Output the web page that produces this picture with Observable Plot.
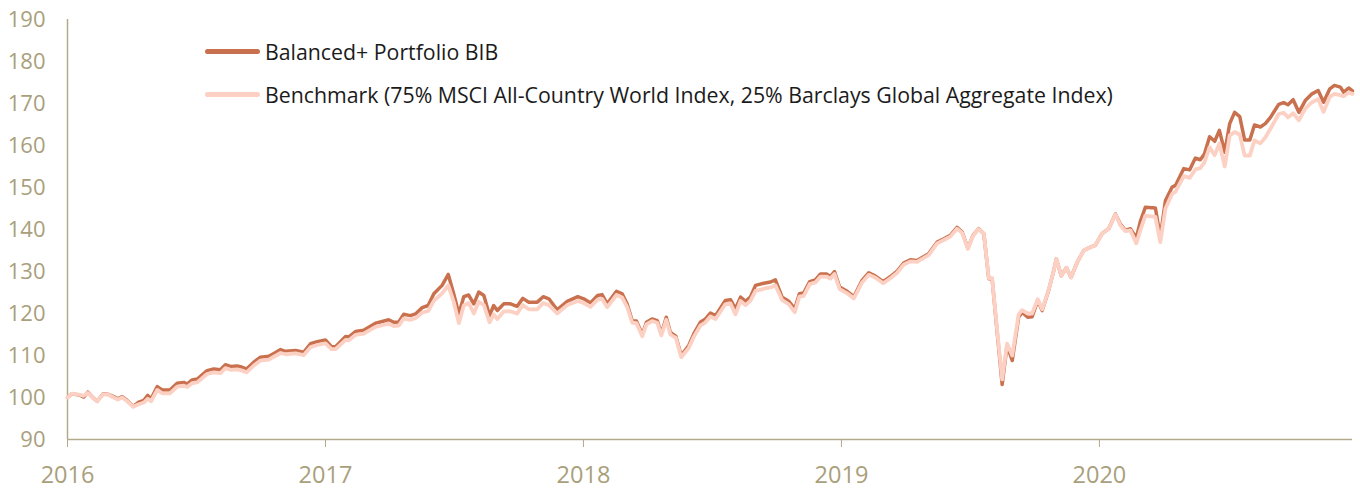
<!DOCTYPE html>
<html>
<head>
<meta charset="utf-8">
<script src="https://cdn.jsdelivr.net/npm/d3@7"></script>
<script src="https://cdn.jsdelivr.net/npm/@observablehq/plot@0.6"></script>
<style>
  html, body { margin: 0; padding: 0; background: #fff; }
  #wrap { position: relative; width: 1360px; height: 489px; font-family: "Open Sans", sans-serif; }
  #legend { position: absolute; left: 205px; top: 30px; }
  .row { display: flex; align-items: center; height: 43px; font-size: 21.3px; color: #1b1b1b; white-space: nowrap; }
  .sw { width: 55px; height: 5px; border-radius: 3px; margin-right: 5px; }
</style>
</head>
<body>
<div id="wrap"></div>
<script>
// Time in decimal years
const t = [
2016.000,2016.018,2016.050,2016.063,2016.079,2016.096,2016.115,2016.138,2016.160,2016.179,
2016.195,2016.212,2016.231,2016.255,2016.276,2016.296,2016.311,2016.324,2016.348,2016.367,
2016.397,2016.425,2016.451,2016.464,2016.483,2016.503,2016.541,2016.567,2016.593,2016.612,
2016.632,2016.658,2016.677,2016.694,2016.722,2016.748,2016.780,2016.800,2016.826,2016.845,
2016.884,2016.916,2016.942,2016.968,2017.000,2017.023,2017.039,2017.078,2017.090,2017.116,
2017.148,2017.194,2017.220,2017.245,2017.265,2017.284,2017.303,2017.329,2017.349,2017.375,
2017.398,2017.420,2017.452,2017.476,2017.497,2017.517,2017.536,2017.555,2017.575,2017.594,
2017.614,2017.636,2017.652,2017.666,2017.691,2017.717,2017.743,2017.765,2017.788,2017.821,
2017.844,2017.866,2017.898,2017.937,2017.978,2018.001,2018.027,2018.055,2018.072,2018.092,
2018.128,2018.150,2018.169,2018.189,2018.205,2018.228,2018.244,2018.266,2018.286,2018.302,
2018.321,2018.337,2018.358,2018.379,2018.408,2018.428,2018.453,2018.473,2018.492,2018.512,
2018.550,2018.570,2018.589,2018.609,2018.628,2018.647,2018.667,2018.699,2018.725,2018.744,
2018.770,2018.796,2018.819,2018.837,2018.854,2018.877,2018.899,2018.919,2018.942,2018.957,
2018.973,2018.993,2019.022,2019.048,2019.080,2019.106,2019.132,2019.162,2019.190,2019.216,
2019.241,2019.267,2019.293,2019.313,2019.338,2019.371,2019.397,2019.422,2019.448,2019.468,
2019.490,2019.510,2019.532,2019.552,2019.571,2019.584,2019.603,2019.623,2019.642,2019.662,
2019.687,2019.700,2019.722,2019.739,2019.761,2019.778,2019.803,2019.823,2019.833,2019.852,
2019.872,2019.890,2019.914,2019.939,2019.965,2019.984,2020.010,2020.036,2020.062,2020.081,
2020.101,2020.120,2020.143,2020.159,2020.178,2020.217,2020.236,2020.256,2020.282,2020.295,
2020.327,2020.350,2020.372,2020.391,2020.407,2020.427,2020.447,2020.465,2020.486,2020.505,
2020.524,2020.544,2020.563,2020.583,2020.601,2020.624,2020.643,2020.663,2020.695,2020.714,
2020.731,2020.751,2020.773,2020.798,2020.824,2020.848,2020.869,2020.893,2020.911,2020.934,
2020.947,2020.966,2020.981
];
const portfolio = [
100.0,100.9,100.5,100.1,101.3,100.1,99.1,100.9,100.7,100.2,
99.7,100.2,99.3,97.9,98.9,99.3,100.5,99.7,102.6,101.8,
101.8,103.4,103.6,103.2,104.2,104.4,106.4,106.8,106.6,107.8,
107.4,107.5,107.2,106.8,108.4,109.6,109.8,110.5,111.4,111.0,
111.2,110.8,112.8,113.3,113.7,112.1,112.1,114.5,114.4,115.7,
116.0,117.7,118.1,118.5,117.9,118.0,119.8,119.5,119.9,121.4,
121.9,124.7,126.7,129.3,124.7,119.9,124.0,124.4,122.3,125.1,
124.3,119.5,121.9,120.7,122.3,122.3,121.7,123.6,122.7,122.7,
124.0,123.5,120.9,122.9,124.0,123.5,122.5,124.3,124.5,122.3,
125.3,124.7,122.3,118.3,118.2,115.0,117.9,118.7,118.3,115.2,
119.1,115.5,114.6,110.0,112.4,115.2,117.9,118.7,120.1,119.5,
123.1,123.3,121.1,123.9,122.9,123.9,126.7,127.2,127.5,128.0,
123.9,122.9,121.1,124.7,124.9,127.6,128.0,129.4,129.4,128.8,
130.0,126.3,125.3,124.0,127.9,129.7,128.9,127.6,128.8,130.1,
132.0,132.8,132.6,133.3,134.2,137.0,137.8,138.6,140.5,139.4,
135.5,138.6,140.2,139.0,128.3,128.3,116.0,103.1,112.4,108.8,
119.1,120.3,119.1,119.2,123.1,120.7,125.5,130.2,133.0,129.0,
130.9,128.6,132.2,135.0,135.8,136.2,139.0,140.2,143.7,141.3,
139.8,140.2,138.0,142.0,145.3,145.1,138.2,146.9,150.1,150.5,
154.5,154.2,157.0,156.6,158.0,162.1,161.0,163.6,158.4,165.2,
167.9,166.9,161.3,161.3,164.9,164.4,165.2,166.7,169.8,170.2,
169.7,170.9,167.9,170.7,172.3,173.1,170.3,173.5,174.3,173.9,
172.7,173.7,173.0
];
const benchmark = [
100.0,100.9,100.6,100.4,101.1,100.0,99.1,100.8,100.6,100.0,
99.5,100.0,99.1,97.8,98.4,98.8,99.7,99.1,101.8,101.0,
101.0,102.6,102.8,102.5,103.4,103.6,105.6,106.0,105.8,107.0,
106.6,106.7,106.4,106.0,107.6,108.8,109.0,109.7,110.6,110.3,
110.5,110.1,112.0,112.5,112.9,111.5,111.5,113.7,113.6,114.9,
115.2,116.8,117.2,117.6,117.0,117.1,118.8,118.5,118.9,120.2,
120.6,123.0,124.8,126.7,122.8,117.7,121.9,122.5,120.0,122.8,
122.0,117.9,119.8,118.7,120.5,120.5,120.0,122.0,121.0,121.0,
122.5,122.0,120.0,122.0,123.0,122.5,121.6,123.3,123.5,121.5,
124.4,123.8,121.6,117.8,117.7,114.6,117.4,118.2,117.8,114.8,
118.5,115.0,114.2,109.6,111.8,114.5,117.1,117.9,119.3,118.7,
122.2,122.4,119.8,123.0,122.0,123.0,125.4,125.9,126.2,126.7,
123.2,122.2,120.3,124.0,124.2,127.0,127.4,128.8,128.8,128.3,
129.4,125.8,124.8,123.6,127.4,129.2,128.5,127.2,128.4,129.7,
131.6,132.4,132.3,133.0,133.9,136.7,137.5,138.3,140.2,139.2,
135.4,138.5,140.1,139.0,128.4,128.4,116.5,104.3,112.8,110.0,
119.8,120.8,120.0,120.0,123.4,121.0,125.6,130.2,133.0,129.0,
130.9,128.6,132.2,135.0,135.8,136.2,139.0,140.2,143.6,141.0,
139.6,139.8,136.7,139.9,143.3,143.0,137.0,145.0,148.5,149.0,
152.7,152.3,154.3,154.6,156.0,159.6,157.7,160.5,155.0,162.4,
163.2,162.6,157.6,157.6,161.2,160.5,161.9,164.0,167.5,167.8,
166.7,167.7,166.0,168.8,170.3,171.0,168.0,171.6,172.3,172.0,
171.7,172.6,172.3
];
const seriesNames = ["Balanced+ Portfolio BIB", "Benchmark (75% MSCI All-Country World Index, 25% Barclays Global Aggregate Index)"];
const seriesColors = ["#c9714e", "#fdd0c4"];
const yTicks = [90,100,110,120,130,140,150,160,170,180,190];
const xTicks = [2016,2017,2018,2019,2020];

const dataP = t.map((d,i) => ({t: d, v: portfolio[i]}));
const dataB = t.map((d,i) => ({t: d, v: benchmark[i]}));

const axisColor = "#b3aa8a";
const labelColor = "#a99f7c";

const chart = Plot.plot({
  width: 1360,
  height: 489,
  marginLeft: 67,
  marginRight: 8,
  marginTop: 19,
  marginBottom: 50,
  style: {fontFamily: "Open Sans", background: "#fff"},
  x: {type: "linear", domain: [2016, 2020.981]},
  y: {domain: [90, 190]},
  marks: [
    Plot.axisY({ticks: yTicks, tickSize: 0, tickPadding: 22, fontSize: 22, color: labelColor, label: null}),
    Plot.axisX({ticks: xTicks, tickSize: 8, tickPadding: 19, fontSize: 23.5, color: labelColor, stroke: axisColor, tickFormat: d => String(d), label: null}),
    Plot.ruleX([2016], {stroke: axisColor, strokeWidth: 1.5}),
    Plot.ruleY([90], {stroke: axisColor, strokeWidth: 1.5}),
    Plot.line(dataP, {x: "t", y: "v", stroke: seriesColors[0], strokeWidth: 3.5, strokeLinejoin: "round"}),
    Plot.line(dataB, {x: "t", y: "v", stroke: seriesColors[1], strokeWidth: 3.8, strokeLinejoin: "round"})
  ]
});

const wrap = document.getElementById("wrap");
wrap.appendChild(chart);
const legend = document.createElement("div");
legend.id = "legend";
seriesNames.forEach((name, i) => {
  const row = document.createElement("div");
  row.className = "row";
  const sw = document.createElement("div");
  sw.className = "sw";
  sw.style.background = seriesColors[i];
  const tx = document.createElement("span");
  tx.textContent = name;
  row.appendChild(sw);
  row.appendChild(tx);
  legend.appendChild(row);
});
wrap.appendChild(legend);
</script>
</body>
</html>
